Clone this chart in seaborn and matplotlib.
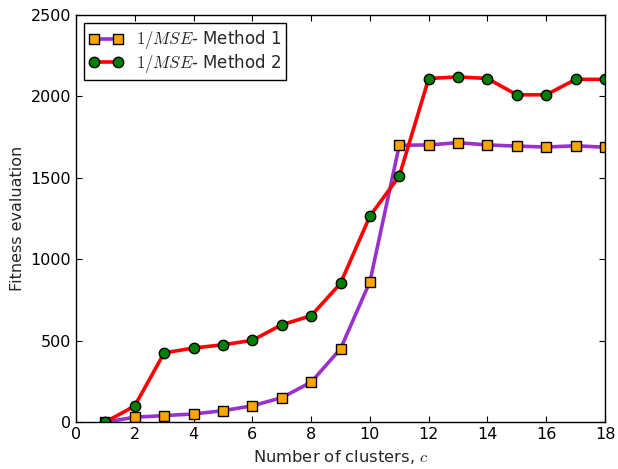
import matplotlib
matplotlib.use("Agg")
import matplotlib.pyplot as plt
import seaborn as sns
import pandas as pd

# Fitness of each clustering solution for the two methods
clusters = list(range(1, 19))
method1 = [0, 30, 40, 50, 70, 100, 150, 245, 450, 862, 1700, 1702, 1716, 1702, 1695, 1689, 1697, 1688]
method2 = [0, 100, 425, 455, 475, 502, 598, 653, 852, 1265, 1511, 2110, 2120, 2110, 2010, 2010, 2105, 2105]

label1 = r"$1/MSE$- Method 1"
label2 = r"$1/MSE$- Method 2"

sns.set_style("white")
plt.rcParams.update({
    "font.family": ["DejaVu Sans"],
    "mathtext.fontset": "cm",
    "font.size": 11,
    "xtick.direction": "in",
    "ytick.direction": "in",
    "xtick.top": True,
    "ytick.right": True,
    "xtick.bottom": True,
    "ytick.left": True,
    "xtick.major.size": 4,
    "ytick.major.size": 4,
    "xtick.major.width": 0.8,
    "ytick.major.width": 0.8,
    "axes.edgecolor": "black",
    "axes.linewidth": 1.0,
})

df1 = pd.DataFrame({"c": clusters, "fitness": method1})
df2 = pd.DataFrame({"c": clusters, "fitness": method2})

fig, ax = plt.subplots(figsize=(6.18, 4.69), dpi=100)
fig.subplots_adjust(left=0.123, right=0.979, top=0.968, bottom=0.100)

sns.lineplot(data=df1, x="c", y="fitness", ax=ax, color="#9932CC", lw=2.6,
             marker="s", markersize=7.2, markerfacecolor="orange",
             markeredgecolor="black", markeredgewidth=1, label=label1)
sns.lineplot(data=df2, x="c", y="fitness", ax=ax, color="red", lw=2.6,
             marker="o", markersize=7.5, markerfacecolor="green",
             markeredgecolor="black", markeredgewidth=1, label=label2)

ax.set_xlim(0, 18)
ax.set_ylim(0, 2500)
ax.set_xticks(range(0, 19, 2))
ax.set_yticks(range(0, 2501, 500))
ax.set_xlabel(r"Number of clusters, $c$", fontsize=11.8)
ax.set_ylabel("Fitness evaluation", fontsize=11.5)
ax.tick_params(labelsize=11.5, colors="black")
for s in ax.spines.values():
    s.set_visible(True)
    s.set_color("black")

leg = ax.legend(loc="upper left", numpoints=2, fancybox=False, frameon=True,
                edgecolor="black", framealpha=1, fontsize=12,
                handlelength=2.0, borderpad=0.3, labelspacing=0.05,
                handletextpad=0.8, borderaxespad=0.5)
leg.get_frame().set_linewidth(1.0)

fig.savefig("out.png", dpi=100)
